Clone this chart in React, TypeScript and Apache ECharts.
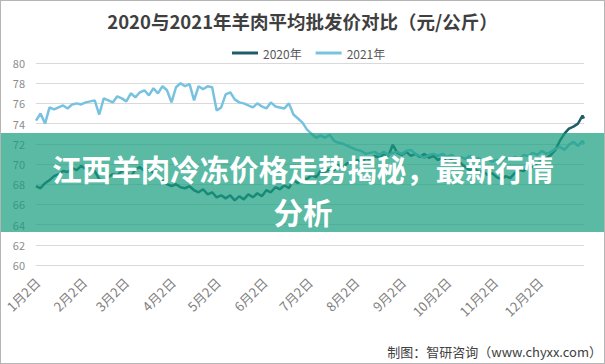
import React, { useEffect, useRef } from "react";
import * as echarts from "echarts";

// day of year for each sample
const days = [1,4,7,10,13,16,19,22,25,28,31,34,37,40,43,46,49,52,55,58,61,64,67,70,73,76,79,82,85,88,91,94,97,100,103,106,109,112,115,118,121,124,127,130,133,136,139,142,145,148,151,154,157,160,163,166,169,172,175,178,181,184,187,190,193,196,199,202,205,208,211,214,217,220,223,226,229,232,235,238,241,244,247,250,253,256,259,262,265,268,271,274,277,280,283,286,289,292,295,298,301,304,307,310,313,316,319,322,325,328,331,334,337,340,343,346,349,352,355,358,361,364,365];

const values2020 = [
  67.8, 67.6, 68.1, 68.4, 68.8, 69.0, 69.3, 69.2, 69.6, 69.4,
  69.8, 69.5, 69.8, 69.3, 68.5, 68.3, 68.7, 69.0, 68.9, 69.3,
  69.2, 68.7, 69.5, 69.7, 69.3, 69.5, 69.1, 68.8, 68.4, 68.0,
  67.8, 68.0, 67.7, 67.6, 67.8, 67.4, 67.2, 67.5, 67.0, 67.2,
  66.7, 66.9, 66.6, 66.9, 66.4, 66.8, 66.5, 67.0, 66.7, 67.1,
  66.8, 67.4, 67.2, 67.7, 67.5, 67.9, 67.6, 68.4, 68.1, 68.6,
  68.5, 68.9, 68.7, 69.3, 69.2, 69.5, 69.4, 69.9, 69.7, 70.1,
  70.0, 70.4, 70.2, 70.6, 70.5, 70.8, 70.6, 71.0, 70.8, 71.9,
  71.1, 70.9, 71.2, 70.8, 71.0, 70.7, 71.0, 70.6, 70.8, 70.4,
  70.6, 70.2, 70.4, 70.0, 70.1, 69.7, 69.4, 69.6, 69.2, 69.3,
  68.9, 69.1, 68.7, 68.5, 68.8, 68.6, 69.1, 69.4, 69.3, 69.8,
  69.7, 70.1, 70.3, 70.6, 70.9, 71.4, 72.3, 73.0, 73.5, 73.7,
  74.0, 74.8, 74.5,
];

const values2021 = [
  74.3, 75.0, 74.0, 75.6, 75.4, 75.6, 75.8, 75.5, 75.9, 76.0,
  75.9, 76.1, 76.2, 76.3, 74.9, 76.5, 76.3, 76.1, 76.7, 76.5,
  76.2, 77.0, 76.6, 77.1, 77.3, 76.8, 77.5, 77.0, 77.7, 77.3,
  76.1, 77.6, 78.0, 77.7, 77.9, 76.3, 77.7, 77.4, 77.7, 77.6,
  75.3, 75.6, 76.9, 77.1, 76.4, 76.1, 76.0, 75.8, 75.6, 76.0,
  75.7, 75.5, 76.1, 75.7, 75.6, 75.5, 76.0, 74.9, 74.5, 74.1,
  73.4, 73.0, 72.6, 72.8, 72.6, 72.9, 72.3, 72.1, 72.0, 71.8,
  71.6, 71.4, 71.3, 71.0, 71.1, 71.2, 70.9, 71.2, 70.9, 71.1,
  71.2, 71.0, 71.3, 71.4, 71.0, 70.8, 70.6, 70.9, 71.0, 70.8,
  71.0, 70.7, 70.9, 70.6, 70.7, 70.5, 70.8, 70.4, 70.6, 70.3,
  70.5, 70.2, 70.4, 70.3, 70.6, 70.4, 70.7, 70.5, 70.9, 70.8,
  71.1, 70.9, 71.3, 71.0, 71.2, 71.5, 71.7, 71.4, 71.9, 72.2,
  71.8, 72.3, 72.0,
];

const tickDays = [2, 33, 61, 92, 122, 153, 183, 214, 245, 275, 306, 336];
const tickLabels = ["1月2日","2月2日","3月2日","4月2日","5月2日","6月2日","7月2日","8月2日","9月2日","10月2日","11月2日","12月2日"];

const seriesNames = ["2020年", "2021年"];
const titleText = "2020与2021年羊肉平均批发价对比（元/公斤）";
const bannerLine1 = "江西羊肉冷冻价格走势揭秘，最新行情";
const bannerLine2 = "分析";
const footerText = "制图：智研咨询（www.chyxx.com）";

const FONT = "'Noto Sans CJK SC', 'Noto Sans', sans-serif";

export default function App() {
  const ref = useRef<HTMLDivElement>(null);
  useEffect(() => {
    document.body.style.margin = "0";
    const chart = echarts.init(ref.current!, null, { renderer: "svg" });
    const labelMap: Record<number, string> = {};
    tickDays.forEach((d, i) => (labelMap[d] = tickLabels[i]));
    const bannerStyle = {
      fill: "#ffffff",
      font: `bold 29.5px ${FONT}`,
      textAlign: "center",
      textVerticalAlign: "middle",
      shadowColor: "rgba(0,0,0,0.35)",
      shadowBlur: 2,
      shadowOffsetX: 1,
      shadowOffsetY: 1,
    };
    chart.setOption({
      animation: false,
      backgroundColor: "#ffffff",
      title: {
        text: titleText,
        left: "center",
        top: 6,
        textStyle: { fontSize: 18.5, fontWeight: "bold", color: "#3f3f3f", fontFamily: FONT },
      },
      legend: {
        top: 41,
        left: 226,
        itemWidth: 26,
        itemHeight: 3,
        itemGap: 14,
        icon: "rect",
        textStyle: { fontSize: 12, color: "#595959", fontFamily: FONT },
        data: seriesNames,
      },
      grid: { left: 35, right: 20, top: 62, bottom: 98 },
      xAxis: {
        type: "value",
        min: 1,
        max: 365,
        axisLine: { show: false },
        axisTick: { show: false },
        splitLine: { show: false },
        axisLabel: {
          customValues: tickDays,
          rotate: 45,
          margin: 15,
          fontSize: 13,
          color: "#808080",
          fontFamily: FONT,
          formatter: (v: number) => labelMap[v] || "",
        },
      },
      yAxis: {
        type: "value",
        min: 60,
        max: 80,
        interval: 2,
        axisLine: { show: false },
        axisTick: { show: false },
        splitLine: { lineStyle: { color: "#d9d9d9", width: 1 } },
        axisLabel: { fontSize: 11, color: "#8c8c8c", margin: 11, fontFamily: FONT },
      },
      series: [
        {
          name: seriesNames[0],
          type: "line",
          showSymbol: false,
          symbol: "none",
          data: days.map((d, i) => [d, values2020[i]]),
          lineStyle: { color: "#1f5e69", width: 2.5 },
          itemStyle: { color: "#1f5e69" },
        },
        {
          name: seriesNames[1],
          type: "line",
          showSymbol: false,
          symbol: "none",
          data: days.map((d, i) => [d, values2021[i]]),
          lineStyle: { color: "#78c2e1", width: 2.5 },
          itemStyle: { color: "#78c2e1" },
        },
      ],
      graphic: [
        {
          type: "rect",
          z: 100,
          shape: { x: 0, y: 132, width: 605, height: 99 },
          style: { fill: "rgba(22,156,126,0.7)" },
        },
        {
          type: "text",
          z: 101,
          x: 302,
          y: 167,
          style: { ...bannerStyle, text: bannerLine1 },
        },
        {
          type: "text",
          z: 101,
          x: 302,
          y: 210,
          style: { ...bannerStyle, text: bannerLine2 },
        },
        {
          type: "text",
          z: 50,
          right: 2,
          top: 344,
          style: {
            text: footerText,
            fill: "#404040",
            font: `13px ${FONT}`,
          },
        },
      ],
    });
    return () => chart.dispose();
  }, []);
  return (
    <div
      ref={ref}
      style={{ width: 605, height: 364, boxSizing: "border-box", border: "1px solid #b5b5b5" }}
    />
  );
}
